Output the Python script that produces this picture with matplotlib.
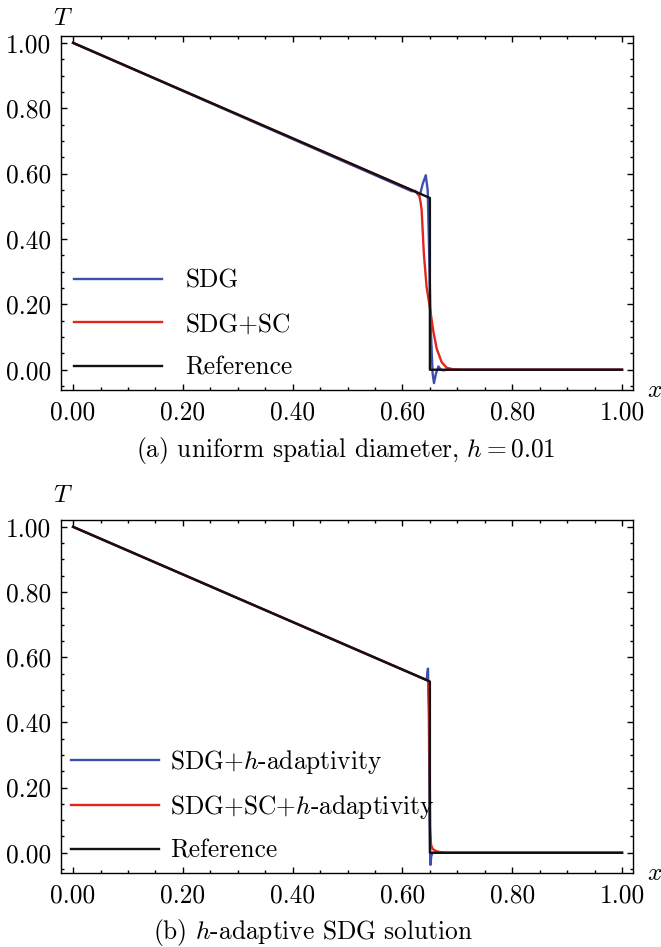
import matplotlib
matplotlib.use('Agg')
import matplotlib.pyplot as plt
from matplotlib.ticker import FormatStrFormatter, MultipleLocator

plt.rcParams['font.family'] = 'serif'
plt.rcParams['font.serif'] = ['cmr10']
plt.rcParams['mathtext.fontset'] = 'cm'
plt.rcParams['axes.unicode_minus'] = False
plt.rcParams['axes.formatter.use_mathtext'] = True

FS = 18.3
BLUE = '#3f4fb0'
RED = '#e3261c'
BLACK = '#111111'
LW = 1.7

# ---- panel (a): uniform mesh, h = 0.01 ----
ref_x = [0.0, 0.65, 0.65, 1.0]
ref_T = [1.0, 0.5255, 0.0, 0.0]

sdg_x = [0.0, 0.617, 0.623, 0.627, 0.632, 0.637, 0.6425, 0.646, 0.649, 0.6515,
         0.655, 0.6575, 0.661, 0.6655, 0.670, 0.675, 0.68, 1.0]
sdg_T = [1.0, 0.546, 0.547, 0.539, 0.536, 0.569, 0.595, 0.549, 0.335, 0.13,
         -0.012, -0.041, -0.012, 0.010, 0.0, -0.002, 0.0, 0.0]

sc_x = [0.0, 0.626, 0.631, 0.633, 0.635, 0.639, 0.644, 0.650, 0.656, 0.6625,
        0.6715, 0.6807, 0.693, 0.71, 1.0]
sc_T = [1.0, 0.543, 0.53, 0.513, 0.488, 0.355, 0.253, 0.19, 0.12, 0.064,
        0.023, 0.006, 0.001, 0.0, 0.0]

# ---- panel (b): h-adaptive ----
ref2_x = [0.0, 0.65, 0.65, 1.0]
ref2_T = [1.0, 0.5255, 0.0, 0.0]

ad_x = [0.0, 0.644, 0.6465, 0.648, 0.6495, 0.651, 0.6525, 0.655, 1.0]
ad_T = [1.0, 0.530, 0.565, 0.45, 0.10, -0.037, -0.01, 0.0, 0.0]

adsc_x = [0.0, 0.647, 0.649, 0.6505, 0.652, 0.655, 0.66, 0.668, 0.68, 1.0]
adsc_T = [1.0, 0.528, 0.40, 0.08, 0.025, 0.012, 0.006, 0.002, 0.0, 0.0]

fig = plt.figure(figsize=(6.61, 9.47), dpi=100)
W, H = 661.0, 947.0
ax1 = fig.add_axes([61 / W, 1 - 390 / H, 572 / W, 354 / H])
ax2 = fig.add_axes([61 / W, 1 - 873 / H, 572 / W, 353 / H])

ax1.plot(sdg_x, sdg_T, color=BLUE, lw=LW, label='SDG')
ax1.plot(sc_x, sc_T, color=RED, lw=LW, label='SDG+SC')
ax1.plot(ref_x, ref_T, color=BLACK, lw=LW, label='Reference')

ax2.plot(ad_x, ad_T, color=BLUE, lw=LW, label='SDG+$h$-adaptivity')
ax2.plot(adsc_x, adsc_T, color=RED, lw=LW, label='SDG+SC+$h$-adaptivity')
ax2.plot(ref2_x, ref2_T, color=BLACK, lw=LW, label='Reference')

for ax in [ax1, ax2]:
    ax.set_xlim(-0.022, 1.02)
    ax.set_ylim(-0.062, 1.021)
    ax.xaxis.set_major_locator(MultipleLocator(0.2))
    ax.xaxis.set_minor_locator(MultipleLocator(0.05))
    ax.yaxis.set_major_locator(MultipleLocator(0.2))
    ax.yaxis.set_minor_locator(MultipleLocator(0.05))
    ax.xaxis.set_major_formatter(FormatStrFormatter('%.2f'))
    ax.yaxis.set_major_formatter(FormatStrFormatter('%.2f'))
    ax.tick_params(which='both', direction='in', top=True, right=True, width=1.0)
    ax.tick_params(which='major', length=4.5, labelsize=FS)
    ax.tick_params(axis='x', which='major', pad=8)
    ax.tick_params(axis='y', which='major', pad=7)
    ax.tick_params(which='minor', length=2.5)
    for s in ax.spines.values():
        s.set_linewidth(1.0)
    ax.set_ylabel('$T$', rotation=0, fontsize=FS)
    ax.set_xlabel('$x$', fontsize=FS)
    ax.xaxis.label.set_va('center')
    ax.yaxis.label.set_va('center')
    ax.yaxis.label.set_ha('center')

ax1.yaxis.set_label_coords(0.004, 1.05)
ax2.yaxis.set_label_coords(0.004, 1.07)
ax1.xaxis.set_label_coords(1.037, 0.0)
ax2.xaxis.set_label_coords(1.037, 0.0)

ax1.legend(loc='lower left', bbox_to_anchor=(0.005, 0.0), frameon=False, fontsize=FS,
           handlelength=3.45, handletextpad=0.93, labelspacing=0.78, borderaxespad=0.0)
ax2.legend(loc='lower left', bbox_to_anchor=(0.0, 0.0), frameon=False, fontsize=FS,
           handlelength=3.45, handletextpad=0.45, labelspacing=0.7, borderaxespad=0.0)

fig.text(346 / W, 1 - 450 / H, '(a) uniform spatial diameter, $h = 0.01$',
         ha='center', va='center', fontsize=FS)
fig.text(313 / W, 1 - 932 / H, '(b) $h$-adaptive SDG solution',
         ha='center', va='center', fontsize=FS)

fig.savefig('out.png', dpi=100)
